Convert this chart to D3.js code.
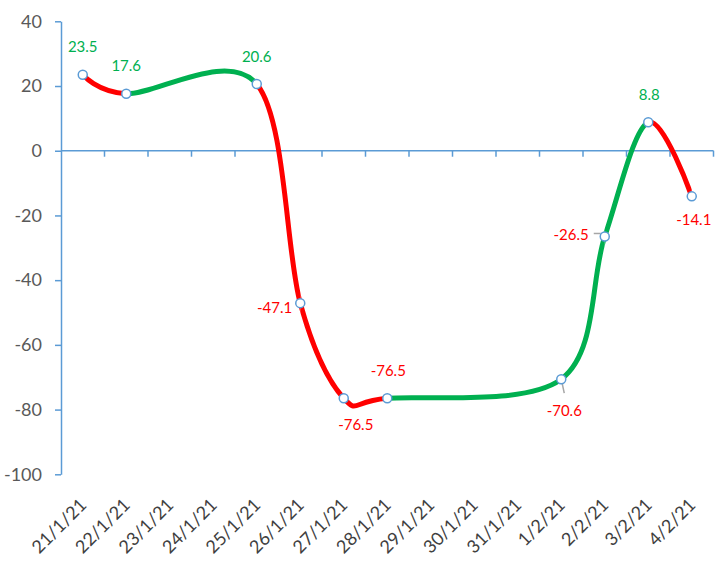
<!DOCTYPE html>
<html>
<head>
<meta charset="utf-8">
<script src="https://cdn.jsdelivr.net/npm/d3@7"></script>
<style>
  html, body { margin: 0; padding: 0; background: #fff; }
  svg { display: block; }
  text { font-family: Lato, "Open Sans", sans-serif; }
</style>
</head>
<body>
<svg id="chart" width="715" height="561"></svg>
<script>
// ---- data ----
const categories = ["21/1/21","22/1/21","23/1/21","24/1/21","25/1/21","26/1/21","27/1/21","28/1/21","29/1/21","30/1/21","31/1/21","1/2/21","2/2/21","3/2/21","4/2/21"];
const pointDates = ["21/1/21","22/1/21","25/1/21","26/1/21","27/1/21","28/1/21","1/2/21","2/2/21","3/2/21","4/2/21"];
const pointValues = [23.5, 17.6, 20.6, -47.1, -76.5, -76.5, -70.6, -26.5, 8.8, -14.1];
const yTicks = [-100, -80, -60, -40, -20, 0, 20, 40];

// ---- layout / style ----
const W = 715, H = 561;
const plot = { left: 61, right: 713.5, top: 21.3, bottom: 474.3 };
const RED = "#FF0000", GREEN = "#00B050", AXIS = "#5B9BD5";
// label placement per point: [dx, dy, anchor, leader]
const labelPlacement = [
  [0, -23, "middle", null],
  [0, -23, "middle", null],
  [0, -22, "middle", null],
  [-8, 10, "end", null],
  [12, 32, "middle", null],
  [1, -22, "middle", null],
  [3, 37, "middle", [[0, 0], [3, 14]]],
  [-16, 4, "end", [[-11, -3], [-4, -3]]],
  [1, -22, "middle", null],
  [2, 29, "middle", null]
];

const svg = d3.select("#chart");

const x = d3.scaleBand().domain(categories).range([plot.left, plot.right]).padding(0);
const y = d3.scaleLinear().domain([-100, 40]).range([plot.bottom, plot.top]);
const cx = d => x(d) + x.bandwidth() / 2;

const pts = pointDates.map((d, i) => ({ date: d, value: pointValues[i], px: cx(d), py: y(pointValues[i]) }));

// ---- y axis ----
const yAxis = d3.axisLeft(y).tickValues(yTicks).tickFormat(d => String(d))
  .tickSize(6).tickSizeOuter(0).tickPadding(13);
const gy = svg.append("g").attr("transform", `translate(${plot.left},0)`).call(yAxis);
gy.select(".domain").attr("stroke", AXIS).attr("stroke-width", 1.5);
gy.selectAll(".tick line").attr("stroke", AXIS).attr("stroke-width", 1.5);
gy.selectAll(".tick text").attr("fill", "#595959").style("font-size", "18px").style("font-family", "Lato, sans-serif");

// ---- x axis at y=0 ----
const gx = svg.append("g");
gx.append("line")
  .attr("x1", plot.left).attr("x2", plot.right)
  .attr("y1", y(0)).attr("y2", y(0))
  .attr("stroke", AXIS).attr("stroke-width", 1.5);
const boundaries = categories.map(d => x(d)).concat([x.range()[1]]);
gx.selectAll("line.xt").data(boundaries.slice(1)).join("line")
  .attr("class", "xt")
  .attr("x1", d => d).attr("x2", d => d)
  .attr("y1", y(0)).attr("y2", y(0) + 6)
  .attr("stroke", AXIS).attr("stroke-width", 1.5);

// x labels rotated at the bottom
svg.append("g").selectAll("text").data(categories).join("text")
  .attr("transform", d => `translate(${cx(d) + 5},506) rotate(-45)`)
  .attr("text-anchor", "end")
  .attr("fill", "#404040")
  .style("font-size", "18px")
  .text(d => d);

// ---- smooth line, coloured per segment ----
const line = d3.line().x(d => d.px).y(d => d.py).curve(d3.curveCardinal.tension(0));
const defs = svg.append("defs");
const segs = d3.range(pts.length - 1).map(i => ({
  i, x0: pts[i].px, x1: pts[i + 1].px,
  color: pts[i + 1].value > pts[i].value ? GREEN : RED
}));
defs.selectAll("clipPath").data(segs).join("clipPath")
  .attr("id", d => "seg" + d.i)
  .append("rect")
  .attr("x", d => d.x0).attr("width", d => d.x1 - d.x0)
  .attr("y", 0).attr("height", H);
svg.append("g").selectAll("path").data(segs).join("path")
  .attr("d", line(pts))
  .attr("clip-path", d => `url(#seg${d.i})`)
  .attr("fill", "none")
  .attr("stroke", d => d.color)
  .attr("stroke-width", 5)
  .attr("stroke-linejoin", "round");

// ---- leader lines ----
const lg = svg.append("g");
pts.forEach((p, i) => {
  const lp = labelPlacement[i];
  if (lp[3]) {
    lg.append("line")
      .attr("x1", p.px + lp[3][0][0]).attr("y1", p.py + lp[3][0][1])
      .attr("x2", p.px + lp[3][1][0]).attr("y2", p.py + lp[3][1][1])
      .attr("stroke", "#A6A6A6").attr("stroke-width", 1.5);
  }
});

// ---- markers ----
svg.append("g").selectAll("circle").data(pts).join("circle")
  .attr("cx", d => d.px).attr("cy", d => d.py).attr("r", 4.5)
  .attr("fill", "#fff").attr("stroke", AXIS).attr("stroke-width", 1.5);

// ---- data labels ----
svg.append("g").selectAll("text").data(pts).join("text")
  .attr("x", (d, i) => d.px + labelPlacement[i][0])
  .attr("y", (d, i) => d.py + labelPlacement[i][1])
  .attr("text-anchor", (d, i) => labelPlacement[i][2])
  .attr("fill", d => d.value >= 0 ? GREEN : RED)
  .style("font-size", "15px")
  .text(d => d.value.toFixed(1));
</script>
</body>
</html>
